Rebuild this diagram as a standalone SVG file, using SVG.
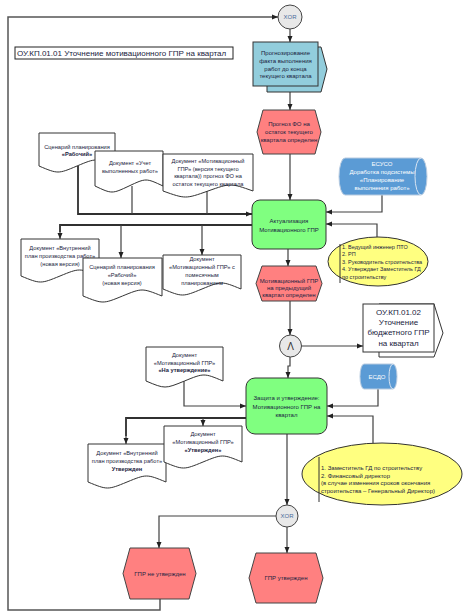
<svg xmlns="http://www.w3.org/2000/svg" width="465" height="614" viewBox="0 0 465 614">
<style>
text{font-family:"Liberation Sans",Arial,sans-serif;fill:#1a2340;font-size:6px;text-anchor:middle}
.d{font-size:5.7px}
.l{text-anchor:start}
.b{font-weight:bold}
.w{fill:#ffffff}
.doc{fill:#ffffff;stroke:#333;stroke-width:1}
.ev{fill:#ff8080;stroke:#444;stroke-width:1}
.fn{fill:#80ff80;stroke:#333;stroke-width:1}
.bl{fill:#92cddc;stroke:#333;stroke-width:1}
.cy{fill:#5b9bd5;stroke:#b8cbe0;stroke-width:1}
.el{fill:#ffff80;stroke:#333;stroke-width:1}
.op{fill:#e8e8e8;stroke:#444;stroke-width:1}
.c{fill:none;stroke:#404040;stroke-width:1.2}
.t{fill:none;stroke:#303030;stroke-width:1.8}
.a{marker-end:url(#ah)}
</style>
<defs>
<marker id="ah" markerUnits="userSpaceOnUse" markerWidth="6" markerHeight="6" viewBox="0 0 6 6" refX="6" refY="3" orient="auto">
<path d="M0,0.5 L6,3 L0,5.5 Z" fill="#222"/>
</marker>
</defs>
<rect width="465" height="614" fill="#ffffff"/>

<g id="connectors">
<path class="c a" d="M160,599 V610 H8 V17 H278" style="stroke:#555;stroke-width:1.5"/>
<path class="c a" d="M290,29 V42"/>
<path class="c a" d="M290,92 V110"/>
<path class="c a" d="M290,154 V200"/>
<path class="t a" d="M78,166 V214 H252"/>
<path class="c" d="M132,186 V214"/>
<path class="c" d="M207,191 V214"/>
<path class="t" d="M252,225 H60 V232"/>
<path class="c a" d="M60,225 V239"/>
<path class="c a" d="M121,225 V258"/>
<path class="c a" d="M202,225 V255"/>
<path class="c a" d="M382,195 V212 H326"/>
<path class="c a" d="M377,237 V224 H326"/>
<path class="c a" d="M288,249 V266"/>
<path class="c a" d="M290,301 V335"/>
<path class="c a" d="M302,346 H363"/>
<path class="c a" d="M290,357 V366 H288 V378"/>
<path class="c a" d="M184,381 V406 H246"/>
<path class="t" d="M246,418 H126 V436"/>
<path class="c a" d="M126,418 V444"/>
<path class="c a" d="M203,418 V426"/>
<path class="c a" d="M378,389 V406 H327"/>
<path class="c a" d="M373,443 V416 H327"/>
<path class="c a" d="M287,434 V505"/>
<path class="c a" d="M276,516 H159 V548"/>
<path class="c a" d="M287,527 V553"/>
</g>

<g id="title">
<rect x="15" y="47" width="218" height="12" fill="#ffffff" stroke="#222" stroke-width="1"/>
<text class="l" x="17" y="56" style="font-size:8px">ОУ.КП.01.01 Уточнение мотивационного ГПР на квартал</text>
</g>

<g id="xor-top">
<circle class="op" cx="290" cy="17" r="12"/>
<text x="290" y="19" style="fill:#4a6a9a">XOR</text>
</g>

<g id="func-forecast">
<polygon class="bl" points="267,47 321,47 327,69 321,92 267,92"/>
<rect class="bl" x="253" y="42" width="65" height="44"/>
<text x="285.5" y="55.1">Прогнозирование</text>
<text x="285.5" y="62.8">факта выполнения</text>
<text x="285.5" y="70.5">работ до конца</text>
<text x="285.5" y="78.2">текущего квартала</text>
</g>

<g id="event-forecast">
<polygon class="ev" points="263,110 315,110 321,132 315,154 263,154 257,132"/>
<text x="289" y="126">Прогноз ФО на</text>
<text x="289" y="134">остаток текущего</text>
<text x="289" y="142">квартала определен</text>
</g>

<g id="doc-scenario">
<path class="doc" d="M39,133 H115 V166 C96,158 96,158 77,166 C58,174 58,174 39,166 Z"/>
<text class="d" x="77" y="149">Сценарий планирования</text>
<text class="d b" x="77" y="155.5">«Рабочий»</text>
</g>

<g id="doc-uchet">
<path class="doc" d="M95,151 H163 V186 C146,178 146,178 129,186 C112,194 112,194 95,186 Z"/>
<text class="d" x="130" y="165">Документ «Учет</text>
<text class="d" x="130" y="173">выполненных работ»</text>
</g>

<g id="doc-motiv-current">
<path class="doc" d="M163,154 H253 V191 C230.5,183 230.5,183 208,191 C185.5,199 185.5,199 163,191 Z"/>
<text class="d" x="208" y="163">Документ «Мотивационный</text>
<text class="d" x="208" y="170.5">ГПР» (версия текущего</text>
<text class="d" x="208" y="178">квартала)) прогноз ФО на</text>
<text class="d" x="208" y="185.5">остаток текущего квартала</text>
</g>

<g id="sys-esuso">
<path class="cy" d="M345,158 H421 A6,18.5 0 0 1 421,195 H345 A6,18.5 0 0 1 345,158 Z"/>
<path d="M421,158 A6,18.5 0 0 0 421,195" fill="none" stroke="#d8e4f2" stroke-width="1"/>
<text class="w" x="382" y="166">ЕСУСО</text>
<text class="w" x="382" y="174">Доработка подсистемы</text>
<text class="w" x="382" y="182">«Планирование</text>
<text class="w" x="382" y="190">выполнения работ»</text>
</g>

<g id="func-actual">
<rect class="fn" x="252" y="200" width="74" height="49" rx="8"/>
<text x="289" y="223">Актуализация</text>
<text x="289" y="232">Мотивационного ГПР</text>
</g>

<g id="roles-1">
<ellipse class="el" cx="378" cy="261.5" rx="50" ry="24.5"/>
<line x1="340" y1="244" x2="340" y2="283" stroke="#333" stroke-width="1"/>
<text class="l" x="342" y="249" style="font-size:5.5px">1. Ведущий инженер ПТО</text>
<text class="l" x="342" y="256.4" style="font-size:5.5px">2. РП</text>
<text class="l" x="342" y="263.8" style="font-size:5.5px">3. Руководитель строительства</text>
<text class="l" x="342" y="271.2" style="font-size:5.5px">4. Утверждает Заместитель ГД</text>
<text class="l" x="342" y="278.6" style="font-size:5.5px">по строительству</text>
</g>

<g id="doc-vnutr-new">
<path class="doc" d="M21,239 H99 V276 C79.5,268 79.5,268 60,276 C40.5,284 40.5,284 21,276 Z"/>
<text class="d" x="60" y="250">Документ «Внутренний</text>
<text class="d" x="60" y="258">план производства работ»</text>
<text class="d" x="60" y="265.5">(новая версия)</text>
</g>

<g id="doc-scenario-new">
<path class="doc" d="M83,258 H162 V296 C142,288 142,288 122.5,296 C103,304 103,304 83,296 Z"/>
<text class="d" x="122" y="269">Сценарий планирования</text>
<text class="d" x="122" y="277">«Рабочий»</text>
<text class="d" x="122" y="285">(новая версия)</text>
</g>

<g id="doc-motiv-month">
<path class="doc" d="M163,255 H241 V289 C221.5,281 221.5,281 202,289 C182.5,297 182.5,297 163,289 Z"/>
<text class="d" x="202" y="261">Документ</text>
<text class="d" x="202" y="269">«Мотивационный ГПР» с</text>
<text class="d" x="202" y="277">помесячным</text>
<text class="d" x="202" y="285">планированием</text>
</g>

<g id="event-motiv">
<polygon class="ev" points="262,266 316,266 322,283.5 316,301 262,301 256,283.5"/>
<text x="289" y="283">Мотивационный ГПР</text>
<text x="289" y="290">на предыдущий</text>
<text x="289" y="297">квартал определен</text>
</g>

<g id="and">
<circle class="op" cx="290.5" cy="346" r="11"/>
<text x="290.5" y="349.5" style="font-size:10px;fill:#333">Λ</text>
</g>

<g id="proc-budget">
<polygon fill="#ffffff" stroke="#333" stroke-width="1" points="379,304 434,304 443,333 434,357 379,357"/>
<rect x="363" y="304" width="71" height="48" fill="#ffffff" stroke="#333" stroke-width="1"/>
<text x="398.5" y="314.8" style="font-size:8px">ОУ.КП.01.02</text>
<text x="398.5" y="325.1" style="font-size:8px">Уточнение</text>
<text x="398.5" y="335.4" style="font-size:8px">бюджетного ГПР</text>
<text x="398.5" y="345.7" style="font-size:8px">на квартал</text>
</g>

<g id="doc-motiv-approve">
<path class="doc" d="M146,347 H223 V381 C204,373 204,373 184.5,381 C165,389 165,389 146,381 Z"/>
<text class="d" x="184.5" y="357">Документ</text>
<text class="d" x="184.5" y="364.5">«Мотивационный ГПР»</text>
<text class="d b" x="184.5" y="372">«На утверждение»</text>
</g>

<g id="sys-esdo">
<path class="cy" d="M364,364 H393 A4,12.5 0 0 1 393,389 H364 A4,12.5 0 0 1 364,364 Z"/>
<path d="M393,364 A4,12.5 0 0 0 393,389" fill="none" stroke="#d8e4f2" stroke-width="1"/>
<text class="w" x="377" y="379">ЕСДО</text>
</g>

<g id="func-defend">
<rect class="fn" x="246" y="378" width="81" height="56" rx="9"/>
<text x="286.5" y="400">Защита и утверждение:</text>
<text x="286.5" y="408.5">Мотивационного ГПР на</text>
<text x="286.5" y="416.5">квартал</text>
</g>

<g id="doc-vnutr-approved">
<path class="doc" d="M88,444 H166 V482 C146.5,474 146.5,474 127,482 C107.5,490 107.5,490 88,482 Z"/>
<text class="d" x="127" y="455">Документ «Внутренний</text>
<text class="d" x="127" y="463">план производства работ»</text>
<text class="d b" x="127" y="471">Утвержден</text>
</g>

<g id="doc-motiv-approved">
<path class="doc" d="M164,426 H242 V462 C222.5,454 222.5,454 203,462 C183.5,470 183.5,470 164,462 Z"/>
<text class="d" x="203" y="436">Документ</text>
<text class="d" x="203" y="444">«Мотивационный ГПР»</text>
<text class="d b" x="203" y="452">«Утвержден»</text>
</g>

<g id="roles-2">
<ellipse class="el" cx="382" cy="474" rx="80" ry="31"/>
<line x1="319" y1="457" x2="319" y2="502" stroke="#333" stroke-width="1"/>
<text class="l" x="321" y="470">1. Заместитель ГД по строительству</text>
<text class="l" x="321" y="477.5">2. Финансовый директор</text>
<text class="l" x="321" y="485">(в случае изменения сроков окончания</text>
<text class="l" x="321" y="492.5">строительства – Генеральный Директор)</text>
</g>

<g id="xor-bottom">
<circle class="op" cx="287" cy="516" r="11"/>
<text x="287" y="518" style="fill:#4a6a9a">XOR</text>
</g>

<g id="event-not-approved">
<polygon class="ev" points="130,548 189,548 196,573.5 189,599 130,599 123,573.5"/>
<text x="160" y="575.5">ГПР не утвержден</text>
</g>

<g id="event-approved">
<polygon class="ev" points="256,553 316,553 323,578 316,603 256,603 249,578"/>
<text x="286" y="580">ГПР утвержден</text>
</g>
</svg>
